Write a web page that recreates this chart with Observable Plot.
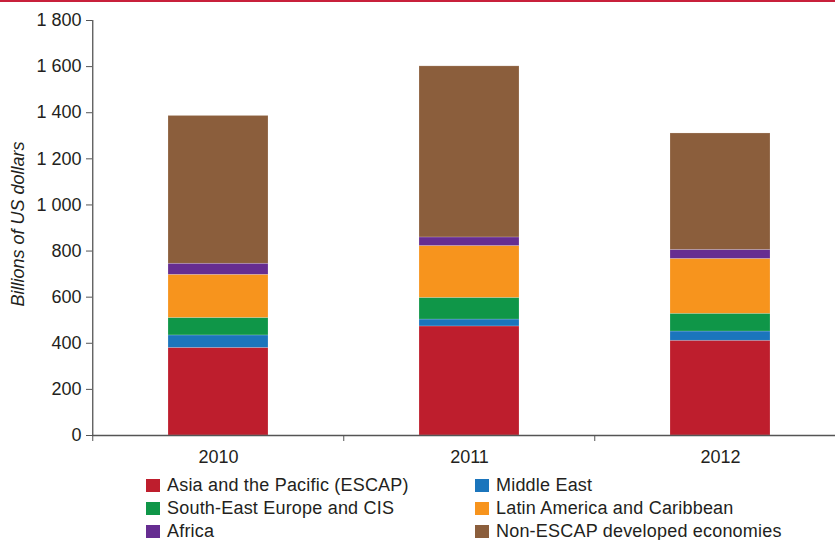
<!DOCTYPE html>
<html>
<head>
<meta charset="utf-8">
<script src="https://cdn.jsdelivr.net/npm/d3@7"></script>
<script src="https://cdn.jsdelivr.net/npm/@observablehq/plot@0.6"></script>
<style>
  html, body { margin: 0; padding: 0; background: #fff; }
  body { width: 835px; height: 540px; overflow: hidden; position: relative; font-family: "Liberation Sans", Arial, sans-serif; color: #231f20; }
  #topline { position: absolute; left: 0; top: 0; width: 835px; height: 2px; background: #c8203b; }
  #legend { position: absolute; left: 0; top: 474px; width: 835px; }
  .item { position: absolute; height: 23px; display: flex; align-items: center; font-size: 18px; letter-spacing: 0.2px; white-space: nowrap; }
  .sw { width: 14px; height: 13px; margin-right: 7px; flex: none; }
</style>
</head>
<body>
<div id="chart"></div>
<div id="topline"></div>
<div id="legend"></div>
<script>
const years = ["2010", "2011", "2012"];
const seriesNames = [
  "Asia and the Pacific (ESCAP)",
  "Middle East",
  "South-East Europe and CIS",
  "Latin America and Caribbean",
  "Africa",
  "Non-ESCAP developed economies"
];
const seriesColors = ["#be1e2d", "#1b75bc", "#0f9648", "#f7941d", "#662d91", "#8b5e3c"];
const asiaPacific = [380, 473, 411];
const middleEast = [54, 30, 40];
const southEastEuropeCIS = [76, 94, 77];
const latinAmerica = [187, 225, 238];
const africa = [48, 37, 39];
const nonEscapDeveloped = [641, 742, 505];
const yTicks = [0, 200, 400, 600, 800, 1000, 1200, 1400, 1600, 1800];

const seriesValues = [asiaPacific, middleEast, southEastEuropeCIS, latinAmerica, africa, nonEscapDeveloped];
const table = years.flatMap((year, i) =>
  seriesNames.map((s, j) => ({year, series: s, value: seriesValues[j][i]}))
);

const W = 835, H = 474;
const mL = 92, mR = -11.5, mT = 20, mB = 39;
const step = (W - mR - mL) / years.length;
const fmt = d => d3.format(",")(d).replace(/,/g, " ");

const chart = Plot.plot({
  width: W,
  height: H,
  marginLeft: mL,
  marginRight: mR,
  marginTop: mT,
  marginBottom: mB,
  style: {fontFamily: "Liberation Sans, Arial, sans-serif", fontSize: "18px", color: "#231f20", background: "white"},
  x: {domain: years, paddingInner: 0.6, paddingOuter: 0.3, axis: null, label: null},
  y: {domain: [0, 1800], axis: null, label: null},
  color: {domain: seriesNames, range: seriesColors},
  marks: [
    Plot.barY(table, {x: "year", y: "value", fill: "series", stroke: "white", strokeOpacity: 0.3, strokeWidth: 0.6}),
    Plot.axisY({ticks: yTicks, tickFormat: fmt, tickSize: 6, tickPadding: 5, stroke: "#555", fill: "#231f20", fontSize: 18, label: null}),
    Plot.ruleX([years[0]], {x: d => d, y1: 0, y2: 1800, dx: -step / 2, stroke: "#555", strokeWidth: 1.3}),
    Plot.ruleY([0], {stroke: "#555", strokeWidth: 1.5}),
    Plot.axisX({ticks: years, tickSize: 6, tickFormat: () => "", dx: -step / 2, stroke: "#555", label: null}),
    Plot.axisX({ticks: years, tickSize: 0, tickPadding: 15, fill: "#231f20", fontSize: 18, label: null}),
    Plot.text(["Billions of US dollars"], {frameAnchor: "left", textAnchor: "middle", rotate: -90, dx: -74, dy: -4, fontStyle: "italic", fontSize: 18, fill: "#231f20"})
  ]
});
document.getElementById("chart").appendChild(chart);

const legend = document.getElementById("legend");
const colX = [146, 475];
seriesNames.forEach((s, i) => {
  const el = document.createElement("div");
  el.className = "item";
  el.style.left = colX[i % 2] + "px";
  el.style.top = (Math.floor(i / 2) * 23) + "px";
  const sw = document.createElement("span");
  sw.className = "sw";
  sw.style.background = seriesColors[i];
  el.appendChild(sw);
  el.appendChild(document.createTextNode(s));
  legend.appendChild(el);
});
</script>
</body>
</html>
